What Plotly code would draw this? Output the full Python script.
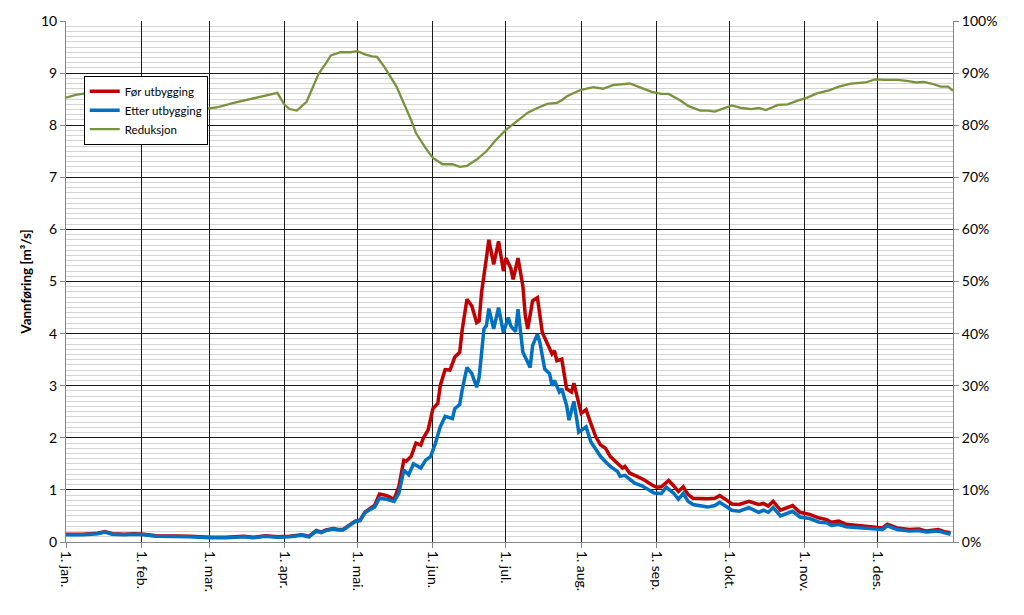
import plotly.graph_objects as go

# ---- data (day of year, 0 = 1 Jan) ----
days_for = [0, 7, 13, 16, 19, 24, 28, 32, 37, 44, 51, 59, 66, 73, 77, 82, 87, 92, 97, 100,
            103, 105, 107, 110, 112, 114, 116, 119, 121, 123, 125, 127, 129, 132, 135, 137, 139, 140,
            142, 144, 146, 147, 149, 151, 153, 154, 156, 158, 160, 162, 163, 165, 167, 169, 170, 171,
            173, 174, 176, 178, 180, 181, 183, 184, 186, 188, 189, 190, 192, 194, 196, 198, 200, 201,
            202, 204, 206, 208, 209, 212, 214, 216, 218, 220, 222, 224, 227, 229, 230, 232, 235, 238,
            241, 243, 245, 248, 250, 252, 254, 256, 258, 261, 264, 267, 269, 272, 274, 277, 281, 285,
            287, 289, 291, 294, 299, 302, 306, 310, 313, 315, 318, 321, 326, 331, 336, 338, 342, 347,
            351, 354, 359, 362, 364]
for_utbygging = [0.15, 0.15, 0.17, 0.20, 0.16, 0.15, 0.16, 0.15, 0.12, 0.12, 0.11, 0.09, 0.09, 0.11,
                 0.09, 0.12, 0.10, 0.11, 0.14, 0.11,
                 0.22, 0.19, 0.23, 0.26, 0.24, 0.24, 0.31, 0.40, 0.42, 0.57, 0.64, 0.70, 0.92, 0.89,
                 0.82, 1.07, 1.57, 1.55,
                 1.64, 1.90, 1.86, 1.99, 2.15, 2.56, 2.66, 3.00, 3.31, 3.30, 3.55, 3.64, 4.06, 4.66,
                 4.53, 4.21, 4.24, 4.79,
                 5.45, 5.80, 5.33, 5.77, 5.20, 5.45, 5.26, 5.04, 5.45, 4.91, 4.34, 4.09, 4.63, 4.69,
                 4.02, 3.83, 3.61, 3.67,
                 3.48, 3.51, 2.94, 2.88, 3.05, 2.47, 2.54, 2.27, 2.02, 1.86, 1.80, 1.64, 1.51, 1.42,
                 1.45, 1.32, 1.26, 1.19,
                 1.10, 1.05, 1.06, 1.18, 1.08, 0.97, 1.06, 0.91, 0.84, 0.83, 0.83, 0.84, 0.89, 0.80,
                 0.73, 0.72, 0.78, 0.72,
                 0.74, 0.69, 0.78, 0.61, 0.70, 0.57, 0.53, 0.46, 0.43, 0.38, 0.40, 0.34, 0.32, 0.29,
                 0.27, 0.34, 0.27, 0.24,
                 0.25, 0.21, 0.24, 0.19, 0.18]

days_etter = [0, 7, 13, 16, 19, 24, 28, 32, 37, 44, 51, 59, 66, 73, 77, 82, 87, 92, 97, 100,
              103, 105, 107, 110, 112, 114, 116, 119, 121, 123, 125, 127, 129, 132, 135, 137, 139, 141,
              143, 146, 148, 150, 152, 154, 156, 159, 160, 162, 163, 164, 165, 167, 169, 170, 172, 173,
              174, 176, 178, 180, 182, 183, 185, 186, 188, 190, 191, 192, 194, 195, 197, 199, 200, 201,
              203, 204, 206, 207, 209, 211, 214, 216, 218, 220, 222, 224, 227, 228, 230, 232, 234, 237,
              240, 242, 245, 247, 250, 252, 254, 256, 258, 261, 264, 267, 269, 272, 274, 277, 281, 285,
              287, 289, 291, 294, 299, 302, 306, 310, 313, 315, 318, 321, 326, 331, 336, 338, 342, 347,
              351, 354, 359, 362, 364]
etter_utbygging = [0.14, 0.14, 0.16, 0.19, 0.15, 0.14, 0.15, 0.14, 0.11, 0.11, 0.10, 0.08, 0.08, 0.10,
                   0.08, 0.11, 0.09, 0.10, 0.13, 0.10,
                   0.21, 0.18, 0.22, 0.25, 0.23, 0.23, 0.30, 0.39, 0.41, 0.56, 0.62, 0.67, 0.84, 0.82,
                   0.78, 0.94, 1.38, 1.29,
                   1.50, 1.42, 1.57, 1.64, 1.89, 2.21, 2.41, 2.37, 2.56, 2.64, 2.91, 3.10, 3.35, 3.23,
                   2.97, 3.16, 4.09, 4.15,
                   4.48, 4.09, 4.50, 4.02, 4.31, 4.15, 4.04, 4.47, 3.64, 3.45, 3.35, 3.77, 3.99, 3.83,
                   3.32, 3.23, 3.00, 3.10,
                   2.88, 2.94, 2.62, 2.34, 2.70, 2.11, 2.21, 1.92, 1.77, 1.64, 1.54, 1.45, 1.35, 1.26,
                   1.28, 1.20, 1.13, 1.08,
                   1.00, 0.94, 0.93, 1.05, 0.94, 0.82, 0.93, 0.78, 0.72, 0.70, 0.67, 0.70, 0.76, 0.67,
                   0.61, 0.59, 0.66, 0.57,
                   0.61, 0.57, 0.66, 0.50, 0.59, 0.48, 0.45, 0.38, 0.37, 0.32, 0.34, 0.29, 0.27, 0.25,
                   0.24, 0.31, 0.24, 0.21,
                   0.22, 0.19, 0.21, 0.17, 0.15]

days_red = [0, 4, 8, 20, 35, 48, 56, 62, 69, 76, 83, 87, 89, 90, 92, 95, 99, 102, 104, 107, 109, 113,
            117, 120, 123, 126, 128, 131, 133, 136, 139, 142, 144, 148, 151, 155, 159, 162, 165, 169,
            173, 177, 181, 186, 190, 194, 198, 202, 204, 206, 208, 212, 217, 221, 225, 232, 236, 241,
            245, 248, 253, 256, 261, 264, 267, 271, 274, 278, 282, 285, 288, 293, 297, 301, 305, 309,
            314, 318, 323, 329, 333, 337, 342, 346, 350, 353, 356, 360, 363, 365]
reduksjon = [85.3, 85.8, 86.1, 86.0, 84.5, 83.3, 83.1, 83.4, 84.3, 85.0, 85.8, 86.2, 84.6, 83.9, 83.1,
             82.8, 84.5, 87.7, 89.9, 91.9, 93.4, 94.0,
             94.0, 94.2, 93.6, 93.2, 93.1, 91.2, 89.6, 87.4, 84.2, 81.0, 78.5, 75.6, 73.7, 72.5, 72.5,
             72.0, 72.2, 73.4,
             75.0, 77.2, 79.1, 80.9, 82.4, 83.3, 84.1, 84.3, 84.8, 85.5, 86.0, 86.8, 87.3, 87.0, 87.7,
             88.0, 87.3, 86.4,
             86.0, 86.0, 84.7, 83.7, 82.8, 82.8, 82.6, 83.3, 83.8, 83.3, 83.1, 83.3, 82.9, 83.9, 84.0,
             84.7, 85.3, 86.1,
             86.7, 87.4, 88.0, 88.2, 88.8, 88.7, 88.7, 88.5, 88.2, 88.3, 88.0, 87.4, 87.4, 86.6]

month_days = [0, 31, 59, 90, 120, 151, 181, 212, 243, 273, 304, 334]
month_labels = ["1. jan.", "1. feb.", "1. mar.", "1. apr.", "1. mai.", "1. jun.", "1. jul.",
                "1. aug.", "1. sep.", "1. okt.", "1. nov.", "1. des."]

FONT = "Lato"

fig = go.Figure()
fig.add_trace(go.Scatter(x=days_for, y=for_utbygging, name="Før utbygging", mode="lines",
                         line=dict(color="#C00000", width=3.5)))
fig.add_trace(go.Scatter(x=days_etter, y=etter_utbygging, name="Etter utbygging", mode="lines",
                         line=dict(color="#0070C0", width=3.5)))
fig.add_trace(go.Scatter(x=days_red, y=reduksjon, name="Reduksjon", mode="lines", yaxis="y2",
                         line=dict(color="#77933C", width=2.3)))

fig.update_layout(
    width=1024, height=615,
    margin=dict(l=66, r=71, t=17, b=73),
    paper_bgcolor="white", plot_bgcolor="white",
    font=dict(family=FONT, size=14, color="#000"),
    showlegend=True,
    legend=dict(x=0.02, y=0.895, xanchor="left", yanchor="top",
                bgcolor="white", bordercolor="#000", borderwidth=1,
                font=dict(family=FONT, size=11.5, color="#000"),
                itemwidth=30, tracegroupgap=0),
    xaxis=dict(range=[0, 365], tickmode="array", tickvals=month_days, ticktext=month_labels,
               tickangle=90, showgrid=True, gridcolor="#1a1a1a", gridwidth=1,
               showline=True, linecolor="#888", linewidth=1,
               ticks="outside", ticklen=5, tickcolor="#888", zeroline=False,
               tickfont=dict(family=FONT, size=14)),
    yaxis=dict(range=[0, 10], dtick=1, showgrid=True, gridcolor="#1a1a1a", gridwidth=1,
               minor=dict(dtick=0.1, showgrid=True, gridcolor="#d4d4d4", gridwidth=1),
               showline=True, linecolor="#888", linewidth=1, zeroline=False,
               ticks="outside", ticklen=5, tickcolor="#888",
               title=dict(text="Vannføring [m³/s]",
                          font=dict(family=FONT, size=13.5, color="#000", weight="bold"),
                          standoff=6),
               tickfont=dict(family=FONT, size=14)),
    yaxis2=dict(range=[0, 100], dtick=10, ticksuffix="%", overlaying="y", side="right",
                showgrid=False, zeroline=False, showline=True, linecolor="#888", linewidth=1,
                ticks="outside", ticklen=5, tickcolor="#888",
                tickfont=dict(family=FONT, size=14)),
)

fig.write_html("out.html")
